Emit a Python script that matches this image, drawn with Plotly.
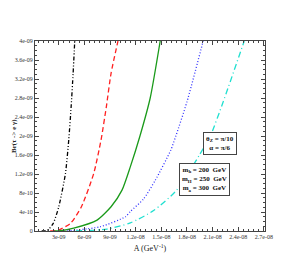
import plotly.graph_objects as go

# Data (values in units of 1e-9)
black_x = [1.0, 1.65, 2.35, 3.0, 3.78, 4.17, 4.45, 4.68, 4.87]
black_y = [0.0, 0.01, 0.16, 0.51, 1.21, 1.92, 2.62, 3.32, 4.0]

red_x = [2.0, 2.96, 4.37, 5.65, 7.09, 7.95, 8.57, 9.12, 9.93]
red_y = [0.0, 0.02, 0.16, 0.51, 1.21, 1.92, 2.62, 3.32, 4.0]

green_x = [2.5, 3.2, 4.75, 7.48, 9.12, 10.4, 11.37, 12.5, 13.7, 14.87]
green_y = [0.0, 0.005, 0.06, 0.23, 0.51, 0.86, 1.35, 2.0, 2.8, 4.0]

blue_x = [4.0, 7.87, 10.8, 11.37, 12.9, 14.3, 16.1, 16.7, 18.0, 19.9]
blue_y = [0.0, 0.09, 0.3, 0.41, 0.67, 1.07, 1.7, 2.0, 2.72, 4.0]

cyan_x = [5.0, 8.65, 11.37, 14.1, 16.8, 19.46, 20.8, 22.2, 24.7]
cyan_y = [0.0, 0.04, 0.17, 0.43, 0.86, 1.6, 2.03, 2.7, 4.0]

x_tick_vals = [3e-9, 6e-9, 9e-9, 1.2e-8, 1.5e-8, 1.8e-8, 2.1e-8, 2.4e-8, 2.7e-8]
x_tick_text = ["3e-09", "6e-09", "9e-09", "1.2e-08", "1.5e-08", "1.8e-08", "2.1e-08", "2.4e-08", "2.7e-08"]
y_tick_vals = [0, 4e-10, 8e-10, 1.2e-9, 1.6e-9, 2e-9, 2.4e-9, 2.8e-9, 3.2e-9, 3.6e-9, 4e-9]
y_tick_text = ["0", "4e-10", "8e-10", "1.2e-09", "1.6e-09", "2e-09", "2.4e-09", "2.8e-09", "3.2e-09", "3.6e-09", "4e-09"]

scale = 1e-9
series = [
    (black_x, black_y, "black", "4px,2px,1px,2px,1px,2px"),
    (red_x, red_y, "#ff2020", "5px,3px"),
    (green_x, green_y, "#1a9a1a", "solid"),
    (blue_x, blue_y, "#3030ff", "1px,2px"),
    (cyan_x, cyan_y, "#20e0d0", "6px,3px,1px,3px"),
]

fig = go.Figure()
for xs, ys, col, dash in series:
    fig.add_trace(go.Scatter(
        x=[v * scale for v in xs], y=[v * scale for v in ys],
        mode="lines", line=dict(color=col, width=1.3, dash=dash, shape="spline", smoothing=0.6),
        showlegend=False, hoverinfo="skip", cliponaxis=True))

font = "Liberation Serif"
axis_common = dict(
    showline=True, linecolor="#444", linewidth=1, mirror="ticks",
    ticks="inside", ticklen=4, tickcolor="#444", tickwidth=1,
    showgrid=False, zeroline=False, automargin=False,
    tickfont=dict(family=font, size=6, color="#333"),
)

fig.update_xaxes(
    range=[2.2e-10, 2.713e-8], tickmode="array",
    tickvals=x_tick_vals, ticktext=x_tick_text,
    minor=dict(ticks="inside", ticklen=2, dtick=6e-10, tick0=0, tickcolor="#444"),
    title=dict(text="A (GeV<sup>-1</sup>)", font=dict(family=font, size=8, color="#222"), standoff=6),
    **axis_common)
fig.update_yaxes(
    range=[0, 4e-9], tickmode="array",
    tickvals=y_tick_vals, ticktext=y_tick_text,
    minor=dict(ticks="inside", ticklen=2, dtick=1e-10, tick0=0, tickcolor="#444"),
    **axis_common)

# y-axis title placed as a rotated annotation at the left edge
fig.add_annotation(
    x=-27 / 230, y=0.5, xref="paper", yref="paper", showarrow=False,
    text="<b>Br(τ -> e γ)</b>", textangle=-90, xanchor="left", yanchor="middle",
    font=dict(family=font, size=7, color="#222"))

ann_font = dict(family=font, size=7, color="#111")
fig.add_annotation(
    x=0.879, y=0.463, xref="paper", yref="paper", showarrow=False,
    text="<b>θ<sub>Z</sub> = π/10</b><br><b>α = π/6</b>", font=ann_font,
    bordercolor="#444", borderwidth=1, borderpad=2, bgcolor="white", align="center")
fig.add_annotation(
    x=0.848, y=0.184, xref="paper", yref="paper", showarrow=False,
    text="<b>m<sub>h</sub> = 200  GeV</b><br><b>m<sub>H</sub> = 250  GeV</b><br><b>m<sub>a</sub> = 300  GeV</b>",
    font=ann_font, bordercolor="#444", borderwidth=1, borderpad=2, bgcolor="white", align="center")

# The page adds an 8px body margin, so the margins are shifted to compensate.
fig.update_layout(
    width=300, height=273,
    margin=dict(l=27, r=43, t=33, b=50),
    paper_bgcolor="white", plot_bgcolor="white",
    font=dict(family=font),
)

fig.write_html("out.html")
